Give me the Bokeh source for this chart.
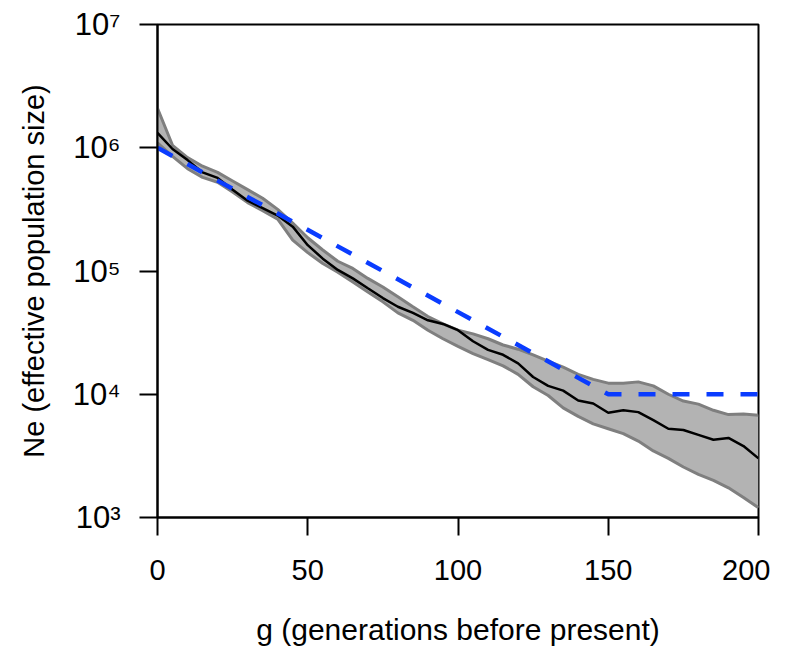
from bokeh.plotting import figure
from bokeh.models import Range1d, FixedTicker, ColumnDataSource
from bokeh.embed import file_html
from bokeh.resources import INLINE

# generations before present
g = [0, 5, 10, 15, 20, 25, 30, 35, 40, 45, 50, 55, 60, 65, 70, 75, 80, 85, 90, 95, 100,
     105, 110, 115, 120, 125, 130, 135, 140, 145, 150, 155, 160, 165, 170, 175, 180, 185, 190, 195, 200]

# estimated Ne (median)
ne_median = [1318000, 977000, 794000, 631000, 569000, 457000, 372000, 324000, 282000, 229000,
             162000, 126000, 102000, 87100, 72400, 60300, 51300, 45700, 39800, 37200,
             33100, 26900, 22900, 20900, 17800, 13800, 11700, 10700, 8910, 8410,
             7080, 7410, 7160, 6170, 5250, 5130, 4680, 4270, 4420, 3800, 3020]

# upper bound of interval
ne_upper = [2090000, 1047000, 832000, 708000, 631000, 537000, 457000, 389000, 316000, 245000,
            186000, 148000, 120000, 105000, 87100, 74100, 61700, 51300, 42700, 37200,
            33100, 30900, 28200, 25100, 23200, 20900, 18600, 16600, 14500, 13200,
            12300, 12300, 12600, 11700, 10000, 8810, 8320, 7410, 6840, 6920, 6760]

# lower bound of interval
ne_lower = [1096000, 851000, 676000, 575000, 525000, 437000, 359000, 309000, 263000, 178000,
            141000, 115000, 97700, 81300, 67600, 56200, 45700, 39800, 33100, 28200,
            24500, 21400, 19100, 17000, 14500, 11500, 9770, 7760, 6610, 5750,
            5250, 4790, 4170, 3470, 3020, 2570, 2240, 2000, 1740, 1450, 1200]

# true demographic history
g_true = [0, 150, 200]
ne_true = [1000000, 10000, 10000]

x_ticks = [0, 50, 100, 150, 200]
y_ticks = [1000, 10000, 100000, 1000000, 10000000]
y_tick_labels = ["10\u00b3", "10\u2074", "10\u2075", "10\u2076", "10\u2077"]

src = ColumnDataSource(dict(g=g, med=ne_median, up=ne_upper, lo=ne_lower))

p = figure(width=770, height=649, output_backend="svg", toolbar_location=None,
           y_axis_type="log", x_range=Range1d(0, 200), y_range=Range1d(1000, 10000000),
           min_border_left=157, min_border_right=12, min_border_top=24, min_border_bottom=132)

p.varea(x="g", y1="lo", y2="up", source=src, fill_color="#b3b3b3")
p.line(x="g", y="up", source=src, line_color="#7f7f7f", line_width=3)
p.line(x="g", y="lo", source=src, line_color="#7f7f7f", line_width=3)
p.line(x="g", y="med", source=src, line_color="black", line_width=2.5)
p.line(x=g_true, y=ne_true, line_color="#0a3cff", line_width=4.5, line_dash="17 17")

p.grid.visible = False
p.outline_line_color = "black"
p.outline_line_width = 2
p.background_fill_color = "white"
p.border_fill_color = "white"

FONT = "Liberation Sans"
for ax in (p.xaxis[0], p.yaxis[0]):
    ax.axis_line_width = 2
    ax.major_tick_line_width = 2
    ax.major_tick_out = 18
    ax.major_tick_in = 0
    ax.minor_tick_line_color = None
    ax.major_label_text_font = FONT
    ax.major_label_text_font_size = "29px"
    ax.major_label_text_color = "black"
    ax.axis_label_text_font = FONT
    ax.axis_label_text_font_style = "normal"
    ax.axis_label_text_color = "black"

p.xaxis.axis_label_text_font_size = "30px"
p.yaxis.axis_label_text_font_size = "29px"
p.yaxis.major_label_text_font_size = "31px"

p.xaxis.ticker = FixedTicker(ticks=x_ticks)
p.yaxis.ticker = FixedTicker(ticks=y_ticks)
p.yaxis.major_label_overrides = {float(t): lab for t, lab in zip(y_ticks, y_tick_labels)}
p.yaxis.major_label_orientation = "horizontal"

p.xaxis.axis_label = "g (generations before present)"
p.yaxis.axis_label = "Ne (effective population size)"
p.xaxis.major_label_standoff = 24
p.xaxis.axis_label_standoff = 30
p.yaxis.major_label_standoff = 19
p.yaxis.axis_label_standoff = 20

open("out.html", "w").write(file_html(p, INLINE))
